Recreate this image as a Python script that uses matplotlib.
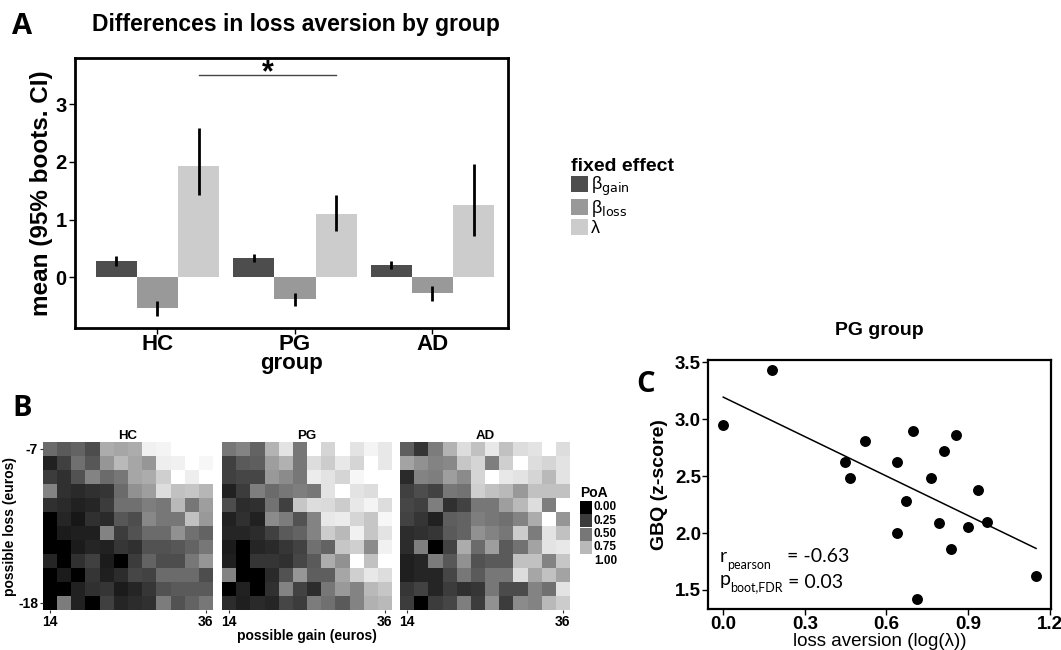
import matplotlib
matplotlib.use('Agg')
import matplotlib.pyplot as plt
import numpy as np
from matplotlib.colors import LinearSegmentedColormap
from matplotlib.patches import Rectangle

plt.rcParams['font.family'] = ['Liberation Sans', 'DejaVu Sans']
plt.rcParams['mathtext.fontset'] = 'dejavusans'

W, H = 1061, 650

# ---- panel A data ----
groups = ['HC', 'PG', 'AD']
effect_labels = [r'β$_{\mathrm{gain}}$', r'β$_{\mathrm{loss}}$', 'λ']
effect_colors = ['#4d4d4d', '#999999', '#cccccc']
gain_mean = [0.28, 0.33, 0.22]
gain_lo = [0.20, 0.27, 0.15]
gain_hi = [0.36, 0.40, 0.29]
loss_mean = [-0.53, -0.38, -0.27]
loss_lo = [-0.68, -0.49, -0.41]
loss_hi = [-0.42, -0.28, -0.16]
lambda_mean = [1.92, 1.10, 1.26]
lambda_lo = [1.43, 0.80, 0.72]
lambda_hi = [2.58, 1.43, 1.97]

# ---- panel B data (probability of acceptance) ----
gains = [14, 16, 18, 20, 22, 24, 26, 28, 30, 32, 34, 36]
losses = [-7, -8, -9, -10, -11, -12, -13, -14, -15, -16, -17, -18]
poa_hc = np.array([
    [0.45, 0.38, 0.42, 0.33, 0.70, 0.68, 0.70, 0.95, 0.96, 1.00, 1.00, 1.00],
    [0.13, 0.27, 0.47, 0.37, 0.62, 0.75, 0.68, 0.62, 0.94, 0.95, 1.00, 0.97],
    [0.25, 0.20, 0.35, 0.55, 0.45, 0.50, 0.68, 0.70, 0.83, 1.00, 0.94, 1.00],
    [0.55, 0.20, 0.17, 0.20, 0.22, 0.45, 0.60, 0.65, 0.88, 0.78, 0.80, 0.74],
    [0.20, 0.17, 0.13, 0.15, 0.25, 0.47, 0.47, 0.53, 0.50, 0.75, 0.50, 0.65],
    [0.00, 0.15, 0.08, 0.20, 0.17, 0.37, 0.33, 0.57, 0.50, 0.50, 0.78, 0.63],
    [0.00, 0.10, 0.12, 0.12, 0.55, 0.25, 0.35, 0.45, 0.45, 0.60, 0.47, 0.42],
    [0.00, 0.00, 0.10, 0.15, 0.13, 0.23, 0.20, 0.35, 0.35, 0.37, 0.42, 0.50],
    [0.15, 0.00, 0.20, 0.27, 0.10, 0.00, 0.25, 0.42, 0.33, 0.33, 0.50, 0.62],
    [0.00, 0.10, 0.00, 0.22, 0.12, 0.18, 0.30, 0.28, 0.45, 0.45, 0.45, 0.33],
    [0.00, 0.00, 0.13, 0.20, 0.22, 0.10, 0.15, 0.23, 0.35, 0.38, 0.38, 0.38],
    [0.00, 0.52, 0.13, 0.00, 0.27, 0.15, 0.18, 0.20, 0.52, 0.35, 0.42, 0.50],
])
poa_pg = np.array([
    [0.50, 0.55, 0.42, 0.73, 0.90, 0.50, 1.00, 0.85, 1.00, 0.90, 0.96, 0.92],
    [0.27, 0.38, 0.40, 0.65, 0.72, 0.50, 0.88, 0.82, 0.92, 0.85, 1.00, 0.92],
    [0.27, 0.30, 0.30, 0.63, 0.58, 0.50, 0.93, 0.90, 0.85, 0.97, 1.00, 1.00],
    [0.13, 0.25, 0.53, 0.45, 0.50, 0.53, 0.50, 0.90, 1.00, 0.90, 0.88, 1.00],
    [0.33, 0.18, 0.20, 0.48, 0.27, 0.80, 0.88, 0.87, 0.82, 0.92, 0.96, 0.88],
    [0.13, 0.20, 0.13, 0.58, 0.52, 0.35, 0.55, 0.92, 0.93, 0.85, 0.80, 0.97],
    [0.15, 0.15, 0.18, 0.27, 0.38, 0.42, 0.55, 0.82, 0.75, 0.95, 0.80, 0.90],
    [0.10, 0.00, 0.15, 0.17, 0.23, 0.28, 0.47, 0.42, 0.80, 0.83, 0.58, 0.95],
    [0.12, 0.00, 0.22, 0.22, 0.20, 0.30, 0.38, 0.70, 0.60, 1.00, 0.78, 1.00],
    [0.55, 0.00, 0.00, 0.17, 0.35, 0.62, 0.40, 0.40, 0.68, 0.83, 0.92, 0.88],
    [0.00, 0.13, 0.00, 0.20, 0.55, 0.28, 0.18, 0.50, 0.63, 0.55, 0.75, 0.80],
    [0.18, 0.12, 0.17, 0.15, 0.30, 0.25, 0.52, 0.47, 0.38, 0.55, 0.72, 0.75],
])
poa_ad = np.array([
    [0.40, 0.22, 0.52, 0.73, 0.88, 0.78, 0.92, 0.78, 0.88, 0.90, 1.00, 0.88],
    [0.67, 0.60, 0.55, 0.57, 0.80, 0.85, 0.53, 0.83, 1.00, 0.88, 0.85, 0.90],
    [0.17, 0.55, 0.53, 0.65, 0.58, 0.85, 1.00, 0.92, 0.90, 0.85, 0.75, 0.90],
    [0.27, 0.33, 0.28, 0.50, 0.48, 0.83, 0.78, 0.75, 0.63, 0.78, 0.78, 0.78],
    [0.30, 0.27, 0.53, 0.20, 0.28, 0.50, 0.50, 0.65, 0.75, 0.88, 0.53, 1.00],
    [0.28, 0.22, 0.13, 0.40, 0.42, 0.53, 0.50, 0.47, 0.55, 0.70, 1.00, 0.62],
    [0.18, 0.20, 0.23, 0.38, 0.42, 0.60, 0.55, 0.50, 0.82, 0.52, 0.90, 0.78],
    [0.18, 0.53, 0.00, 0.28, 0.70, 0.45, 0.65, 0.38, 0.48, 0.67, 0.90, 0.92],
    [0.12, 0.15, 0.52, 0.37, 0.60, 0.35, 0.38, 0.38, 0.78, 0.78, 0.55, 0.80],
    [0.12, 0.15, 0.15, 0.30, 0.50, 0.38, 0.50, 0.50, 0.88, 0.68, 0.78, 0.67],
    [0.23, 0.28, 0.15, 0.25, 0.20, 0.23, 0.50, 0.32, 0.32, 0.55, 0.47, 0.90],
    [0.25, 0.00, 0.25, 0.30, 0.53, 0.25, 0.60, 0.25, 0.58, 0.55, 0.75, 0.82],
])
poa_ticks = [0.00, 0.25, 0.50, 0.75, 1.00]

# ---- panel C data ----
loss_aversion = [0.000, 0.179, 0.449, 0.466, 0.521, 0.639, 0.639, 0.672, 0.696, 0.713,
                 0.762, 0.794, 0.813, 0.837, 0.856, 0.901, 0.936, 0.971, 1.150]
gbq = [2.95, 3.43, 2.62, 2.48, 2.81, 2.62, 2.00, 2.28, 2.90, 1.42,
       2.48, 2.09, 2.72, 1.86, 2.86, 2.05, 2.38, 2.10, 1.62]
r_pearson = '-0.63'
p_boot = '0.03'


def box(l, t, r, b):
    return [l / W, 1 - b / H, (r - l) / W, (b - t) / H]


def fy(ypx):
    return 1 - ypx / H


def lab_gray(v):
    # black -> white interpolated in Lab lightness, as ggplot does
    L = 100 * v
    Y = ((L + 16) / 116) ** 3 if L > 8 else L / 903.3
    return 1.055 * Y ** (1 / 2.4) - 0.055 if Y > 0.0031308 else 12.92 * Y


grey_map = LinearSegmentedColormap.from_list(
    'labgrey', [(g, g, g) for g in [lab_gray(v) for v in np.linspace(0, 1, 21)]])

fig = plt.figure(figsize=(W / 100, H / 100), dpi=100)

# ================= A =================
axA = fig.add_axes(box(75, 58, 508, 328))
x = np.arange(1, len(groups) + 1)
bw = 0.3
series = [(gain_mean, gain_lo, gain_hi), (loss_mean, loss_lo, loss_hi),
          (lambda_mean, lambda_lo, lambda_hi)]
for k, (m, lo, hi) in enumerate(series):
    xs = x + (k - 1) * bw
    axA.bar(xs, m, width=bw, color=effect_colors[k], label=effect_labels[k])
    axA.vlines(xs, lo, hi, color='black', lw=2)
axA.plot([1 + bw, 2 + bw], [3.5, 3.5], color='#444444', lw=1)
axA.text(1.5 + bw, 3.53, '*', ha='center', va='center', fontsize=22, fontweight='bold')
axA.set_xlim(0.4, 3.55)
axA.set_ylim(-0.88, 3.8)
axA.set_yticks([0, 1, 2, 3])
axA.set_xticks(x)
axA.set_xticklabels(groups, fontsize=16, fontweight='bold')
for t in axA.get_yticklabels():
    t.set_fontsize(14.5)
    t.set_fontweight('bold')
axA.tick_params(length=4, width=1, pad=2)
axA.tick_params(axis='x', pad=0)
for s in axA.spines.values():
    s.set_linewidth(2)
axA.set_ylabel('mean (95% boots. CI)', fontsize=17.5, fontweight='bold', labelpad=2)
axA.set_xlabel('group', fontsize=16, fontweight='bold', labelpad=-1)
fig.text(296 / W, fy(25), 'Differences in loss aversion by group', ha='center',
         va='center', fontsize=16.5, fontweight='bold')
fig.text(22 / W, fy(26), 'A', ha='center', va='center', fontsize=21,
         fontweight='bold', family='Open Sans')
leg = axA.legend(title='fixed effect', loc='upper left',
                 bbox_to_anchor=(571 / W, fy(158)), bbox_transform=fig.transFigure,
                 frameon=False, fontsize=13, handlelength=0.95, handleheight=0.95,
                 labelspacing=0.0, handletextpad=0.15, borderpad=0, borderaxespad=0,
                 title_fontproperties={'weight': 'bold', 'size': 14})
leg._legend_box.align = 'left'

# ================= B =================
panels = [('HC', poa_hc, (43, 442, 213, 610)),
          ('PG', poa_pg, (222, 442, 392, 610)),
          ('AD', poa_ad, (400, 442, 570, 610))]
gx = np.array(gains)
ly = np.array(losses)
xe = np.concatenate([gx - 1, [gx[-1] + 1]])
ye = np.concatenate([ly + 0.5, [ly[-1] - 0.5]])
for i, (name, data, rect) in enumerate(panels):
    ax = fig.add_axes(box(*rect))
    ax.pcolormesh(xe, ye, data, cmap=grey_map, vmin=0, vmax=1)
    ax.set_xlim(xe[0], xe[-1])
    ax.set_ylim(ye[-1], ye[0])
    for s in ax.spines.values():
        s.set_visible(False)
    ax.set_xticks([gains[0], gains[-1]])
    ax.set_xticklabels([str(gains[0]), str(gains[-1])], fontsize=10, fontweight='bold')
    ax.tick_params(length=2.5, width=0.8, color='#333333', pad=1)
    if i == 0:
        ax.set_yticks([losses[0], losses[-1]])
        ax.set_yticklabels([str(losses[0]), str(losses[-1])], fontsize=10, fontweight='bold')
        ax.set_ylabel('possible loss (euros)', fontsize=10, fontweight='bold', labelpad=1)
    else:
        ax.set_yticks([])
    if i == 1:
        ax.set_xlabel('possible gain (euros)', fontsize=10, fontweight='bold', labelpad=0)
    ax.set_title(name, fontsize=9.5, fontweight='bold', pad=2)
fig.text(22 / W, fy(409), 'B', ha='center', va='center', fontsize=21,
         fontweight='bold', family='Open Sans')

# discrete PoA legend
fig.text(580 / W, fy(493), 'PoA', ha='left', va='center', fontsize=10, fontweight='bold')
for j, v in enumerate(poa_ticks):
    yc = 507 + j * 13.5
    g = lab_gray(v)
    fig.patches.append(Rectangle((580 / W, fy(yc + 6.5)), 12 / W, 13 / H,
                                 transform=fig.transFigure, facecolor=(g, g, g),
                                 edgecolor='none'))
    fig.text(594 / W, fy(yc), f'{v:.2f}', ha='left', va='center', fontsize=8.5,
             fontweight='bold')

# ================= C =================
axC = fig.add_axes(box(708, 360, 1051, 609))
axC.scatter(loss_aversion, gbq, s=62, color='black', zorder=3, linewidths=0)
coef = np.polyfit(loss_aversion, gbq, 1)
fx = np.array([min(loss_aversion), max(loss_aversion)])
axC.plot(fx, np.polyval(coef, fx), color='black', lw=1.1)
axC.set_xlim(-0.056, 1.205)
axC.set_ylim(1.333, 3.52)
axC.set_xticks([0.0, 0.3, 0.6, 0.9, 1.2])
axC.set_yticks([1.5, 2.0, 2.5, 3.0, 3.5])
axC.set_xticklabels(['0.0', '0.3', '0.6', '0.9', '1.2'], fontsize=13.5, fontweight='bold')
axC.set_yticklabels(['1.5', '2.0', '2.5', '3.0', '3.5'], fontsize=13.5, fontweight='bold')
axC.tick_params(length=4, width=1, pad=1)
for s in axC.spines.values():
    s.set_linewidth(1.6)
axC.set_ylabel('GBQ (z-score)', fontsize=14, fontweight='bold', labelpad=5)
axC.set_xlabel('loss aversion (log(λ))', fontsize=13.5, labelpad=0)
axC.set_title('PG group', fontsize=14, fontweight='bold', pad=18)

# stats annotation: main letter, subscript, value
fig.text(720 / W, fy(556), 'r', ha='left', va='center', fontsize=14, family='Lato')
fig.text(727 / W, fy(565), 'pearson', ha='left', va='center', fontsize=9, family='Lato')
fig.text(787 / W, fy(557), '= ' + r_pearson, ha='left', va='center', fontsize=14,
         family='Lato')
fig.text(720 / W, fy(580), 'p', ha='left', va='center', fontsize=14, family='Lato')
fig.text(730 / W, fy(587), 'boot,FDR', ha='left', va='center', fontsize=9,
         family='Lato')
fig.text(788 / W, fy(582), '= ' + p_boot, ha='left', va='center', fontsize=14,
         family='Lato')
fig.text(646 / W, fy(384), 'C', ha='center', va='center', fontsize=21,
         fontweight='bold', family='Open Sans')

fig.savefig('out.png', dpi=100)
